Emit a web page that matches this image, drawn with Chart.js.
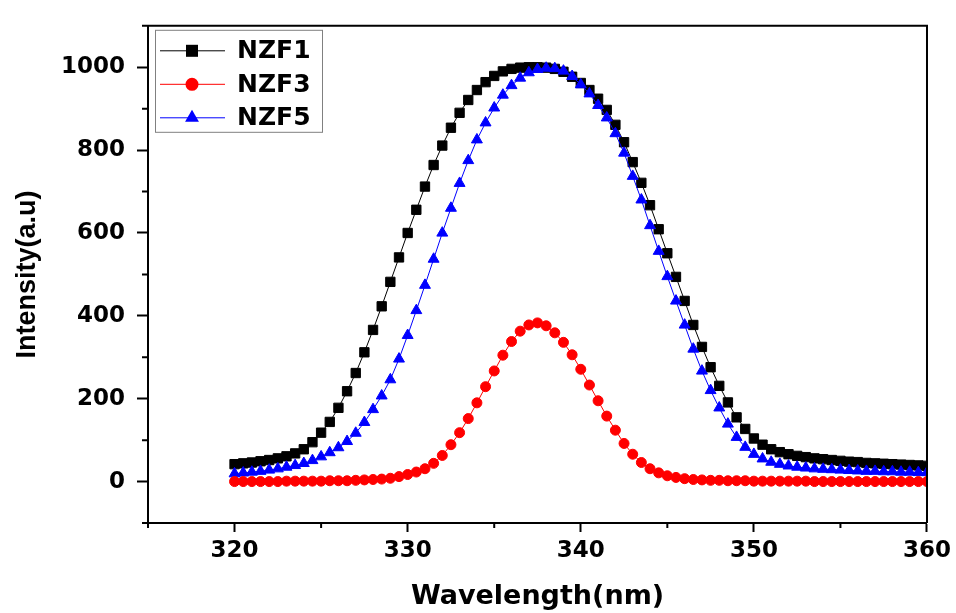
<!DOCTYPE html>
<html>
<head>
<meta charset="utf-8">
<title>Emission spectra NZF1 / NZF3 / NZF5</title>
<script src="https://cdn.jsdelivr.net/npm/chart.js@4.4.1/dist/chart.umd.min.js"></script>
<style>
  html, body { margin: 0; padding: 0; background: #fff; }
  #wrap { width: 956px; height: 613px; }
</style>
</head>
<body>
<div id="wrap"><canvas id="spectra" width="956" height="613"></canvas></div>
<script>
// wavelength grid (nm)
const wavelength = [
  320, 320.5, 321, 321.5, 322, 322.5, 323, 323.5, 324, 324.5,
  325, 325.5, 326, 326.5, 327, 327.5, 328, 328.5, 329, 329.5,
  330, 330.5, 331, 331.5, 332, 332.5, 333, 333.5, 334, 334.5,
  335, 335.5, 336, 336.5, 337, 337.5, 338, 338.5, 339, 339.5,
  340, 340.5, 341, 341.5, 342, 342.5, 343, 343.5, 344, 344.5,
  345, 345.5, 346, 346.5, 347, 347.5, 348, 348.5, 349, 349.5,
  350, 350.5, 351, 351.5, 352, 352.5, 353, 353.5, 354, 354.5,
  355, 355.5, 356, 356.5, 357, 357.5, 358, 358.5, 359, 359.5,
  360
];

const nzf1 = [
  42, 44, 46, 49, 52, 56, 61, 68, 78, 95,
  118, 144, 178, 218, 262, 312, 366, 423, 482, 541,
  600, 656, 712, 764, 811, 854, 890, 921, 945, 964,
  979, 990, 996, 999, 1000, 1000, 999, 996, 989, 977,
  962, 945, 924, 897, 861, 819, 771, 721, 667, 609,
  551, 494, 436, 378, 325, 276, 231, 191, 155, 127,
  104, 89, 78, 71, 66, 62, 59, 56, 54, 52,
  50, 48, 47, 45, 44, 43, 42, 41, 40, 39,
  38
];

const nzf3 = [
  0, 0, 0, 0, 0, 0, 1, 1, 1, 1,
  1, 2, 2, 2, 3, 4, 5, 6, 8, 12,
  17, 23, 31, 44, 63, 89, 118, 152, 190, 229,
  267, 305, 338, 363, 378, 383, 376, 359, 336, 306,
  271, 233, 195, 158, 124, 92, 66, 46, 31, 21,
  14, 10, 7, 5, 4, 3, 3, 2, 2, 2,
  1, 1, 1, 1, 1, 1, 1, 0, 0, 0,
  0, 0, 0, 0, 0, 0, 0, 0, 0, 0,
  0
];

const nzf5 = [
  19, 21, 23, 25, 28, 31, 35, 39, 44, 51,
  60, 70, 82, 97, 117, 143, 174, 207, 246, 296,
  353, 413, 474, 537, 600, 660, 720, 775, 825, 866,
  902, 933, 956, 974, 987, 995, 998, 997, 991, 978,
  958, 936, 908, 878, 840, 793, 737, 680, 618, 556,
  495, 436, 378, 320, 267, 220, 178, 139, 107, 83,
  66, 55, 47, 42, 38, 35, 33, 31, 30, 29,
  28, 27, 26, 25, 25, 24, 24, 23, 23, 22,
  22
];

const xTicks = [320, 330, 340, 350, 360];
const xMinorTicks = [315, 325, 335, 345, 355];
const yTicks = [0, 200, 400, 600, 800, 1000];
const yMinorTicks = [-100, 100, 300, 500, 700, 900, 1100];

const series = [
  { label: 'NZF1', values: nzf1, color: '#000000', style: 'rect', radius: 6.6, legendRadius: 8.5, order: 3 },
  { label: 'NZF3', values: nzf3, color: '#ff0000', style: 'circle', radius: 5, legendRadius: 6.5, order: 1 },
  { label: 'NZF5', values: nzf5, color: '#0000ff', style: 'triangle', radius: 6.3, legendRadius: 8, order: 2 }
];

const tickFont = { family: 'DejaVu Sans', size: 23, weight: 'bold' };

// closes the plot box (top + right) and adds the short minor ticks
const framePlugin = {
  id: 'frame',
  afterDraw(chart) {
    const { ctx, chartArea: a, scales: { x, y } } = chart;
    ctx.save();
    ctx.strokeStyle = '#000';
    ctx.lineWidth = 2;
    ctx.beginPath();
    ctx.moveTo(a.left, a.top);
    ctx.lineTo(a.right, a.top);
    ctx.lineTo(a.right, a.bottom);
    xMinorTicks.forEach(v => {
      const px = x.getPixelForValue(v);
      ctx.moveTo(px, a.bottom);
      ctx.lineTo(px, a.bottom + 5);
    });
    yMinorTicks.forEach(v => {
      const py = y.getPixelForValue(v);
      ctx.moveTo(a.left, py);
      ctx.lineTo(a.left - 6, py);
    });
    ctx.stroke();
    ctx.restore();
  }
};

// legend box inside the top-left corner, line + marker + name per row
const legendPlugin = {
  id: 'boxLegend',
  afterDraw(chart) {
    const { ctx, chartArea: a } = chart;
    const left = a.left + 7;
    const top = a.top + 4;
    ctx.save();
    ctx.strokeStyle = '#808080';
    ctx.lineWidth = 1;
    ctx.strokeRect(left + 0.5, top + 0.5, 167, 102);
    series.forEach((s, i) => {
      const cy = top + 21 + i * 33.5;
      ctx.strokeStyle = s.color;
      ctx.lineWidth = 1;
      ctx.beginPath();
      ctx.moveTo(left + 5, cy);
      ctx.lineTo(left + 70, cy);
      ctx.stroke();
      ctx.fillStyle = s.color;
      Chart.helpers.drawPoint(ctx, { pointStyle: s.style, radius: s.legendRadius, rotation: 0, borderWidth: 0 }, left + 37, cy);
      ctx.fillStyle = '#000';
      ctx.font = 'bold 25px "DejaVu Sans"';
      ctx.textBaseline = 'middle';
      ctx.textAlign = 'left';
      ctx.fillText(s.label, left + 82, cy + 1);
    });
    ctx.restore();
  }
};

new Chart(document.getElementById('spectra'), {
  type: 'line',
  data: {
    datasets: series.map(s => ({
      label: s.label,
      data: wavelength.map((w, i) => ({ x: w, y: s.values[i] })),
      borderColor: s.color,
      backgroundColor: s.color,
      borderWidth: 1,
      pointStyle: s.style,
      pointRadius: s.radius,
      pointBackgroundColor: s.color,
      pointBorderColor: s.color,
      pointBorderWidth: 1,
      tension: 0,
      order: s.order
    }))
  },
  options: {
    responsive: false,
    animation: false,
    layout: { padding: { top: 15, right: 27, left: 0, bottom: 0 } },
    plugins: {
      legend: { display: false },
      tooltip: { enabled: false }
    },
    scales: {
      x: {
        type: 'linear',
        min: 315,
        max: 360,
        afterBuildTicks: sc => { sc.ticks = xTicks.map(v => ({ value: v })); },
        afterFit: sc => { sc.height = 90; },
        grid: { drawOnChartArea: false, drawTicks: true, tickLength: 9, tickColor: '#000', tickWidth: 2 },
        border: { display: true, color: '#000', width: 2 },
        ticks: { color: '#000', font: tickFont, padding: 5, maxRotation: 0, autoSkip: false, callback: v => String(v) },
        title: {
          display: true,
          text: 'Wavelength(nm)',
          color: '#000',
          font: { family: 'DejaVu Sans', size: 27, weight: 'bold' },
          padding: { top: 0, bottom: 0 }
        }
      },
      y: {
        type: 'linear',
        min: -100,
        max: 1100,
        afterBuildTicks: sc => { sc.ticks = yTicks.map(v => ({ value: v })); },
        afterFit: sc => { sc.width = 148; },
        grid: { drawOnChartArea: false, drawTicks: true, tickLength: 11, tickColor: '#000', tickWidth: 2 },
        border: { display: true, color: '#000', width: 2 },
        ticks: { color: '#000', font: tickFont, padding: 12, callback: v => String(v) },
        title: {
          display: true,
          text: 'Intensity(a.u)',
          color: '#000',
          font: { family: 'Liberation Sans', size: 27, weight: 'bold' },
          padding: { top: 11, bottom: 0 }
        }
      }
    }
  },
  plugins: [framePlugin, legendPlugin]
});
</script>
</body>
</html>
